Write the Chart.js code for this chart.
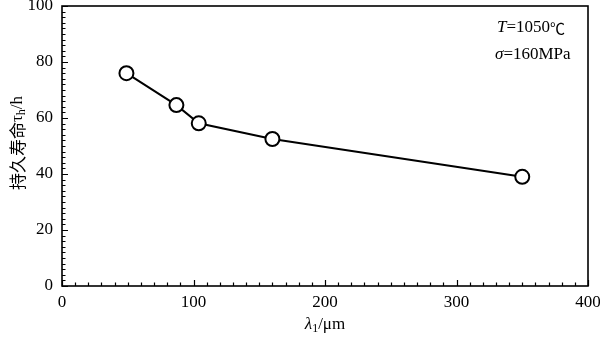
<!DOCTYPE html>
<html>
<head>
<meta charset="utf-8">
<script src="https://cdn.jsdelivr.net/npm/chart.js@4"></script>
<style>
  html, body { margin: 0; padding: 0; background: #fff; }
  #wrap { width: 600px; height: 338px; position: relative; }
</style>
</head>
<body>
<div id="wrap"><canvas id="chart"></canvas></div>
<script>
// spacing λ1 (µm) vs. stress-rupture life (h)
const spacing = [49, 87, 104, 160, 350];
const lifeHours = [76, 64.6, 58.1, 52.5, 39];

const xRange = { min: 0, max: 400, major: 100, minor: 10 };
const yRange = { min: 0, max: 100, major: 20, minor: 2 };

const SERIF = '"Liberation Serif", "Times New Roman", serif';
const CJK = '"Noto Sans CJK SC", sans-serif';

// draw a row of text pieces (different fonts / baseline offsets) side by side
function drawRuns(ctx, runs, x, y, align) {
    let total = 0;
    runs.forEach(r => { ctx.font = r.font; total += ctx.measureText(r.text).width; });
    let cx = align === 'center' ? x - total / 2 : (align === 'right' ? x - total : x);
    ctx.textAlign = 'left';
    ctx.textBaseline = 'middle';
    runs.forEach(r => {
        ctx.font = r.font;
        ctx.fillText(r.text, cx, y + (r.dy || 0));
        cx += ctx.measureText(r.text).width;
    });
}

// keep overhanging tick labels from shrinking the plot area
function noOverhang(scale) {
    scale.paddingTop = 0;
    scale.paddingBottom = 0;
    scale.paddingLeft = 0;
    scale.paddingRight = 0;
}

const framePlugin = {
    id: 'frame',
    afterDraw(chart) {
        const { ctx, chartArea: a, scales } = chart;
        ctx.save();
        ctx.strokeStyle = '#000';
        ctx.fillStyle = '#000';

        // inward tick marks on bottom and left axes
        ctx.lineWidth = 1.2;
        ctx.beginPath();
        for (let v = xRange.min; v <= xRange.max; v += xRange.minor) {
            const px = Math.round(scales.x.getPixelForValue(v)) + 0.5;
            const len = v % xRange.major === 0 ? 6 : 3.5;
            ctx.moveTo(px, a.bottom);
            ctx.lineTo(px, a.bottom - len);
        }
        for (let v = yRange.min; v <= yRange.max; v += yRange.minor) {
            const py = Math.round(scales.y.getPixelForValue(v)) + 0.5;
            const len = v % yRange.major === 0 ? 6 : 3.5;
            ctx.moveTo(a.left, py);
            ctx.lineTo(a.left + len, py);
        }
        ctx.stroke();

        // plot frame
        ctx.lineWidth = 1.6;
        ctx.strokeRect(a.left, a.top, a.right - a.left, a.bottom - a.top);

        // axis titles
        const f = '17px ' + SERIF;
        const fi = 'italic 17px ' + SERIF;
        const fs = '12px ' + SERIF;
        drawRuns(ctx, [
            { text: 'λ', font: fi },
            { text: '1', font: fs, dy: 4 },
            { text: '/μm', font: f }
        ], (a.left + a.right) / 2, 325, 'center');

        ctx.save();
        ctx.translate(18, 143);
        ctx.rotate(-Math.PI / 2);
        drawRuns(ctx, [
            { text: '持久寿命', font: '17px ' + CJK },
            { text: 'τ', font: f },
            { text: 'h', font: fs, dy: 4 },
            { text: '/h', font: f }
        ], 0, 0, 'center');
        ctx.restore();

        // test conditions
        drawRuns(ctx, [
            { text: 'T', font: fi },
            { text: '=1050', font: f },
            { text: '℃', font: '15px ' + CJK }
        ], 497, 28, 'left');
        drawRuns(ctx, [
            { text: 'σ', font: fi },
            { text: '=160MPa', font: f }
        ], 495, 55, 'left');

        ctx.restore();
    }
};

new Chart(document.getElementById('chart'), {
    type: 'scatter',
    data: {
        datasets: [{
            data: spacing.map((x, i) => ({ x: x, y: lifeHours[i] })),
            showLine: true,
            borderColor: '#000',
            borderWidth: 2,
            pointRadius: 7,
            pointBorderWidth: 2,
            pointBackgroundColor: '#fff',
            pointBorderColor: '#000'
        }]
    },
    options: {
        responsive: true,
        maintainAspectRatio: false,
        animation: false,
        layout: {
            autoPadding: false,
            padding: { top: 6, right: 12, left: 0, bottom: 0 }
        },
        plugins: {
            legend: { display: false },
            tooltip: { enabled: false }
        },
        scales: {
            x: {
                type: 'linear',
                min: xRange.min,
                max: xRange.max,
                grid: { display: false, drawTicks: false },
                border: { display: false },
                ticks: {
                    stepSize: xRange.major,
                    color: '#000',
                    padding: 6,
                    maxRotation: 0,
                    font: { family: SERIF, size: 17 }
                },
                afterFit(scale) { scale.height = 52; noOverhang(scale); }
            },
            y: {
                min: yRange.min,
                max: yRange.max,
                grid: { display: false, drawTicks: false },
                border: { display: false },
                ticks: {
                    stepSize: yRange.major,
                    color: '#000',
                    padding: 9,
                    font: { family: SERIF, size: 17 }
                },
                afterFit(scale) { scale.width = 62; noOverhang(scale); }
            }
        }
    },
    plugins: [framePlugin]
});
</script>
</body>
</html>
